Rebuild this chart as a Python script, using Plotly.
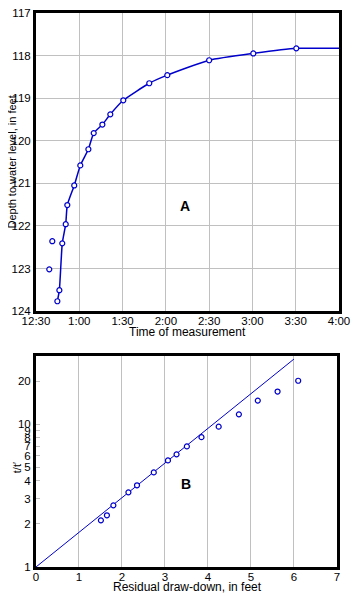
import plotly.graph_objects as go

# ---- Chart A data: minutes after 12:30, depth to water level (ft)
a_minutes = [14.8, 16.2, 18.2, 20.6, 21.7, 26.5, 30.7, 36.3, 40.0, 46.0, 51.5,
             60.5, 78.5, 91.0, 120.0, 150.6, 180.4]
a_depth = [123.77, 123.51, 122.41, 121.96, 121.51, 121.05, 120.58, 120.20,
           119.82, 119.62, 119.38, 119.05, 118.65, 118.46, 118.11, 117.95, 117.83]
a_extra_minutes = [9.2, 11.3]
a_extra_depth = [123.02, 122.36]
a_curve_end_minutes = [210.0]
a_curve_end_depth = [117.83]
a_tick_minutes = [0, 30, 60, 90, 120, 150, 180, 210]
a_tick_labels = ["12:30", "1:00", "1:30", "2:00", "2:30", "3:00", "3:30", "4:00"]

# ---- Chart B data: residual draw-down (ft), t/t'
b_drawdown = [1.51, 1.65, 1.80, 2.15, 2.35, 2.74, 3.07, 3.27, 3.51, 3.85,
              4.25, 4.72, 5.16, 5.62, 6.10]
b_ratio = [2.12, 2.30, 2.70, 3.33, 3.73, 4.59, 5.57, 6.14, 6.98, 8.1,
           9.6, 11.7, 14.6, 16.9, 20.1]
b_line_x = [0.0, 6.0]
b_line_y = [1.0, 28.5]
b_tick_vals = [1, 2, 3, 4, 5, 6, 7, 8, 9, 10, 20]
b_tick_labels = [str(v) for v in b_tick_vals]
b_grid_vals = [5, 10]

BLUE = "#0000cc"
GRID = "#c0c0c0"
FONT = "Liberation Sans, Arial, sans-serif"

fig = go.Figure()

mk = dict(symbol="circle", size=5, color="white", line=dict(width=1.2, color=BLUE))

fig.add_trace(go.Scatter(
    x=a_minutes + a_curve_end_minutes, y=a_depth + a_curve_end_depth,
    mode="lines", line=dict(color=BLUE, width=1.5, shape="spline", smoothing=0.5),
    xaxis="x", yaxis="y", hoverinfo="skip"))
fig.add_trace(go.Scatter(x=a_minutes, y=a_depth, mode="markers", marker=mk,
                         xaxis="x", yaxis="y"))
fig.add_trace(go.Scatter(x=a_extra_minutes, y=a_extra_depth, mode="markers", marker=mk,
                         xaxis="x", yaxis="y"))

fig.add_trace(go.Scatter(
    x=b_line_x, y=b_line_y, mode="lines", line=dict(color=BLUE, width=1),
    xaxis="x2", yaxis="y2", hoverinfo="skip"))
fig.add_trace(go.Scatter(x=b_drawdown, y=b_ratio, mode="markers", marker=mk,
                         xaxis="x2", yaxis="y2"))

axis_common = dict(showline=True, linecolor="black", linewidth=3, mirror=True,
                   gridcolor=GRID, gridwidth=1, zeroline=False, automargin=False,
                   ticklabeloverflow="allow",
                   tickfont=dict(family=FONT, size=11.5, color="black"))

# The page body has an 8px default margin, so the figure is 8px smaller and
# its margins are reduced accordingly.
fig.update_layout(
    width=352, height=586,
    margin=dict(l=28, r=21, t=5, b=27),
    paper_bgcolor="white", plot_bgcolor="white",
    showlegend=False,
    font=dict(family=FONT, size=12, color="black"),
    xaxis=dict(domain=[0, 1], anchor="y", range=[0, 210], tickmode="array",
               tickvals=a_tick_minutes, ticktext=a_tick_labels, showgrid=True,
               ticks="", ticklabelstandoff=-3, **axis_common),
    yaxis=dict(domain=[0.462, 1], anchor="x", range=[124, 117], dtick=1,
               showgrid=True, ticks="", **axis_common),
    xaxis2=dict(domain=[0, 0.993], anchor="y2", range=[0, 7], dtick=1,
                showgrid=True, ticks="", ticklabelstandoff=-3, **axis_common),
    yaxis2=dict(domain=[0, 0.381], anchor="x2", type="log",
                range=[0, 1.477], tickmode="array", tickvals=b_tick_vals,
                ticktext=b_tick_labels, showgrid=False, ticks="inside",
                ticklen=4, tickcolor=GRID, tickwidth=1, **axis_common),
    yaxis3=dict(overlaying="y2", anchor="x2", type="log", range=[0, 1.477],
                tickmode="array", tickvals=b_grid_vals, showticklabels=False,
                showgrid=True, gridcolor=GRID, showline=False, zeroline=False,
                ticks="", automargin=False),
    annotations=[
        dict(text="<b>A</b>", x=103, y=121.53, xref="x", yref="y", showarrow=False,
             font=dict(family=FONT, size=14, color="black"), xanchor="center", yanchor="middle"),
        dict(text="<b>B</b>", x=3.5, y=0.58, xref="x2", yref="y2", showarrow=False,
             font=dict(family=FONT, size=14, color="black"), xanchor="center", yanchor="middle"),
        dict(text="Depth to water level, in feet", x=-0.0775, y=0.731, xref="paper", yref="paper",
             textangle=-90, showarrow=False, xanchor="center", yanchor="middle",
             font=dict(family=FONT, size=11)),
        dict(text="Time of measurement", x=0.5, y=0.424, xref="paper", yref="paper",
             showarrow=False, xanchor="center", yanchor="middle", font=dict(family=FONT, size=12)),
        dict(text="Residual draw-down, in feet", x=0.5, y=-0.037, xref="paper", yref="paper",
             showarrow=False, xanchor="center", yanchor="middle", font=dict(family=FONT, size=12)),
        dict(text="t/t′", x=-0.063, y=0.18, xref="paper", yref="paper", textangle=-90,
             showarrow=False, xanchor="center", yanchor="middle", font=dict(family=FONT, size=11)),
    ],
)

fig.write_html("out.html")
